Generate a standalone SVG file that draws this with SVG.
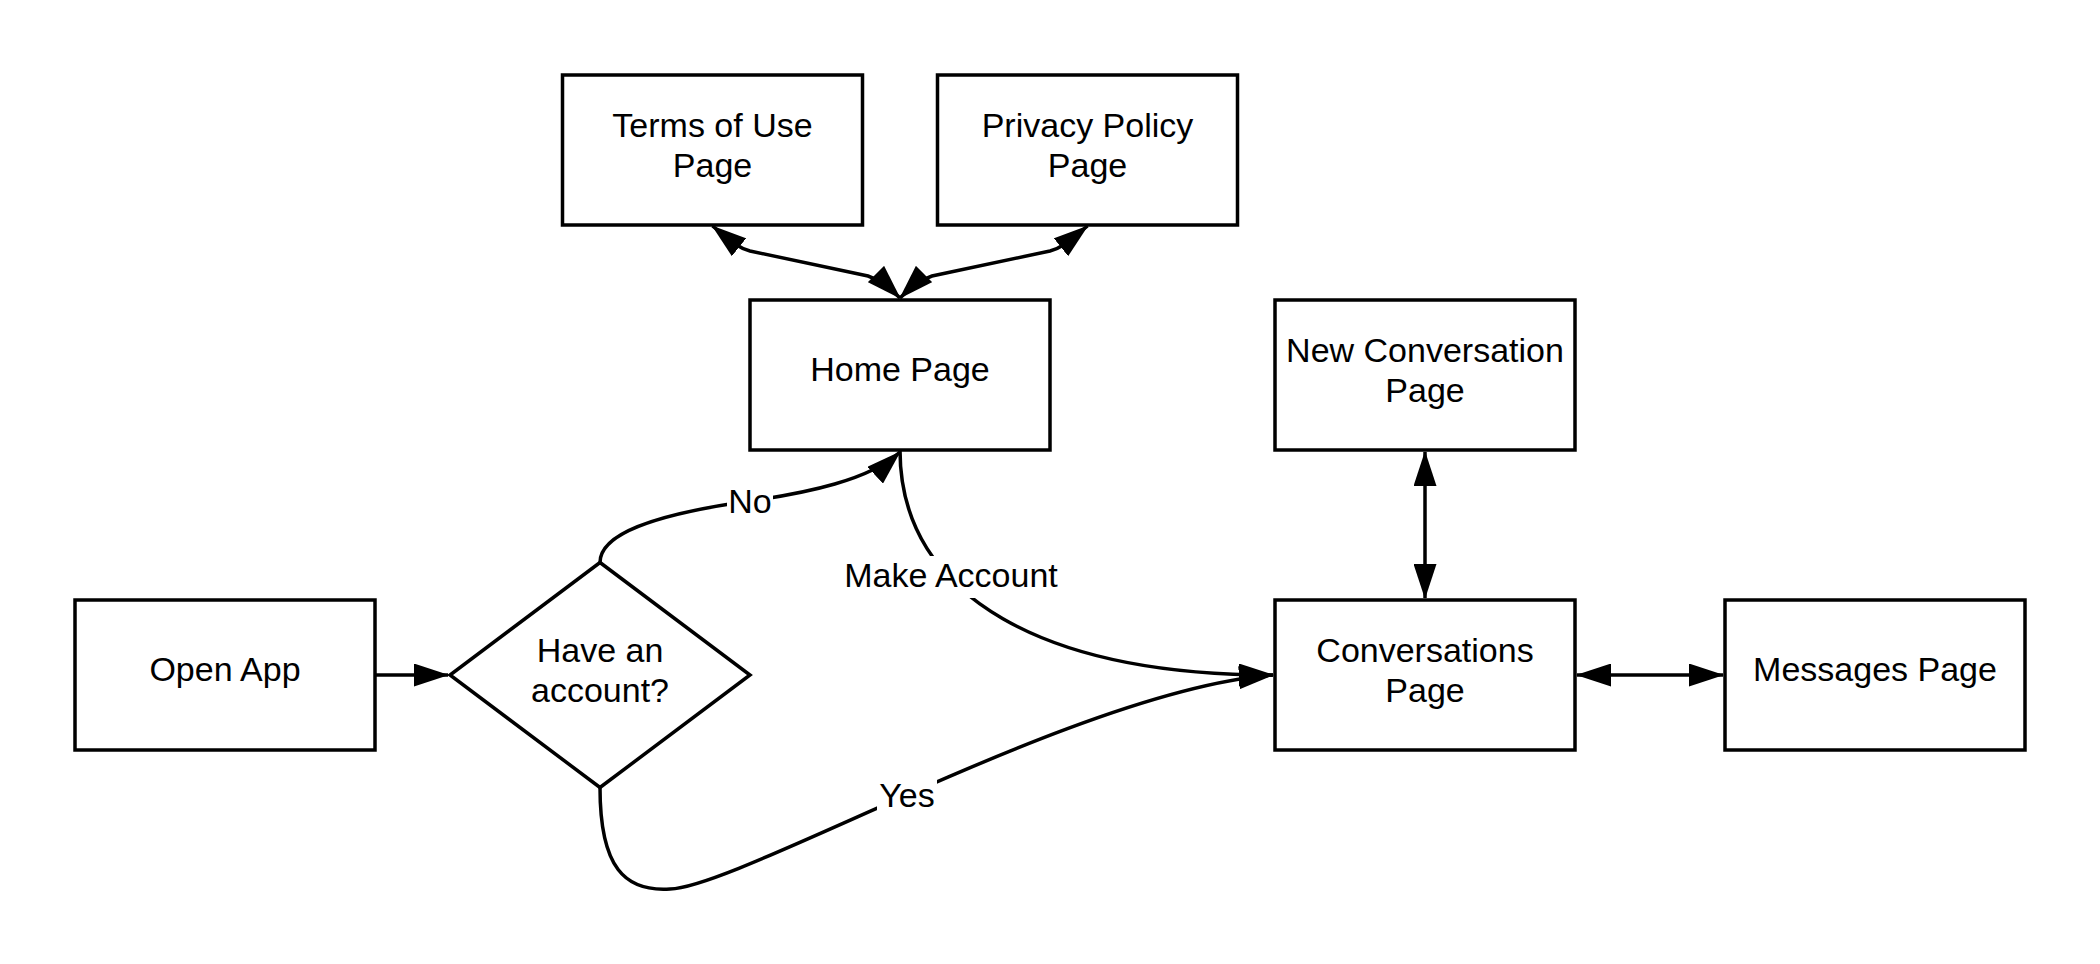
<svg xmlns="http://www.w3.org/2000/svg" width="2100" height="964" viewBox="0 0 2100 964">
<defs>
<style>
.box{fill:#fff;stroke:#000;stroke-width:3.5}
.t{font-family:"Liberation Sans",Arial,sans-serif;font-size:34px;fill:#000;text-anchor:middle}
.c{fill:none;stroke:#000;stroke-width:3.5}
.lb{fill:#fff;stroke:none}
</style>
<marker id="ah" markerUnits="userSpaceOnUse" markerWidth="35" markerHeight="23" refX="34" refY="11.5" orient="auto-start-reverse">
<path d="M0,0 L35,11.5 L0,23 Z" fill="#000"/>
</marker>
</defs>
<rect width="2100" height="964" fill="#fff"/>
<g id="connectors">
<path class="c" d="M375,675 L448,675" marker-end="url(#ah)"/>
<path class="c" d="M600,562.5 C600,535 650,515 750,501 C806,493 870,480 900,452" marker-end="url(#ah)"/>
<path class="c" d="M900,450 C900,600 1050,675 1273,675" marker-end="url(#ah)"/>
<path class="c" d="M600,787.5 C600,868 625,892 670,889 C740,887 1080,690 1273,675" marker-end="url(#ah)"/>
<path class="c" d="M712.5,226 C730,240 738,248 750,251 L868,276 C880,280 890,288 900,298" marker-start="url(#ah)" marker-end="url(#ah)"/>
<path class="c" d="M1087.5,226 C1070,240 1062,248 1050,251 L932,276 C920,280 910,288 900,298" marker-start="url(#ah)" marker-end="url(#ah)"/>
<path class="c" d="M1425,452 L1425,598" marker-start="url(#ah)" marker-end="url(#ah)"/>
<path class="c" d="M1577,675 L1723,675" marker-start="url(#ah)" marker-end="url(#ah)"/>
<rect class="lb" x="727" y="483" width="46" height="36"/>
<text class="t" x="750" y="513">No</text>
<rect class="lb" x="841" y="556" width="220" height="42"/>
<text class="t" x="951" y="587">Make Account</text>
<rect class="lb" x="877" y="777" width="60" height="36"/>
<text class="t" x="907" y="807">Yes</text>
</g>
<g id="terms">
<rect class="box" x="562.5" y="75" width="300" height="150"/>
<text class="t" x="712.5" y="136.5">Terms of Use</text>
<text class="t" x="712.5" y="176.5">Page</text>
</g>
<g id="privacy">
<rect class="box" x="937.5" y="75" width="300" height="150"/>
<text class="t" x="1087.5" y="136.5">Privacy Policy</text>
<text class="t" x="1087.5" y="176.5">Page</text>
</g>
<g id="home">
<rect class="box" x="750" y="300" width="300" height="150"/>
<text class="t" x="900" y="381">Home Page</text>
</g>
<g id="newconv">
<rect class="box" x="1275" y="300" width="300" height="150"/>
<text class="t" x="1425" y="361.5">New Conversation</text>
<text class="t" x="1425" y="401.5">Page</text>
</g>
<g id="openapp">
<rect class="box" x="75" y="600" width="300" height="150"/>
<text class="t" x="225" y="681">Open App</text>
</g>
<g id="decision">
<polygon class="box" points="600,562.5 750,675 600,787.5 450,675"/>
<text class="t" x="600" y="661.5">Have an</text>
<text class="t" x="600" y="701.5">account?</text>
</g>
<g id="conversations">
<rect class="box" x="1275" y="600" width="300" height="150"/>
<text class="t" x="1425" y="661.5">Conversations</text>
<text class="t" x="1425" y="701.5">Page</text>
</g>
<g id="messages">
<rect class="box" x="1725" y="600" width="300" height="150"/>
<text class="t" x="1875" y="681">Messages Page</text>
</g>
</svg>
